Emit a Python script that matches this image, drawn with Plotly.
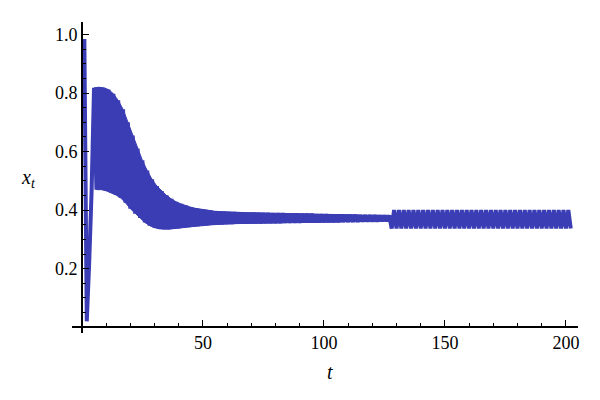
import plotly.graph_objects as go

# time index t = 1..202
t_values = list(range(1, 203))

# x_t (t = 1 .. 202)
x_values = [
    0.985, 0.020, 0.220, 0.465, 0.818, 0.470, 0.820, 0.470, 0.818, 0.466,   # 1-10
    0.812, 0.460, 0.798, 0.452, 0.775, 0.442, 0.745, 0.425, 0.700, 0.405,   # 11-20
    0.655, 0.388, 0.610, 0.373, 0.570, 0.358, 0.535, 0.347, 0.505, 0.340,   # 21-30
    0.482, 0.336, 0.465, 0.335, 0.450, 0.335, 0.438, 0.336, 0.428, 0.338,   # 31-40
    0.421, 0.340, 0.415, 0.342, 0.410, 0.344, 0.406, 0.346, 0.403, 0.348,   # 41-50
    0.400, 0.349, 0.398, 0.350, 0.396, 0.351, 0.395, 0.352, 0.394, 0.353,   # 51-60
    0.393, 0.353, 0.393, 0.354, 0.392, 0.354, 0.392, 0.354, 0.391, 0.355,   # 61-70
    0.391, 0.355, 0.390, 0.355, 0.390, 0.356, 0.390, 0.356, 0.389, 0.356,   # 71-80
    0.389, 0.356, 0.389, 0.357, 0.388, 0.357, 0.388, 0.357, 0.388, 0.357,   # 81-90
    0.387, 0.358, 0.387, 0.358, 0.387, 0.358, 0.386, 0.358, 0.386, 0.359,   # 91-100
    0.386, 0.359, 0.385, 0.359, 0.385, 0.359, 0.385, 0.360, 0.384, 0.360,   # 101-110
    0.384, 0.360, 0.384, 0.360, 0.383, 0.361, 0.383, 0.361, 0.383, 0.361,   # 111-120
    0.383, 0.361, 0.382, 0.362, 0.382, 0.362, 0.382, 0.337, 0.400, 0.337,   # 121-130
    0.400, 0.337, 0.400, 0.337, 0.400, 0.337, 0.400, 0.337, 0.400, 0.337,   # 131-140
    0.400, 0.337, 0.400, 0.337, 0.400, 0.337, 0.400, 0.337, 0.400, 0.337,   # 141-150
    0.400, 0.337, 0.400, 0.337, 0.400, 0.337, 0.400, 0.337, 0.400, 0.337,   # 151-160
    0.400, 0.337, 0.400, 0.337, 0.400, 0.337, 0.400, 0.337, 0.400, 0.337,   # 161-170
    0.400, 0.337, 0.400, 0.337, 0.400, 0.337, 0.400, 0.337, 0.400, 0.337,   # 171-180
    0.400, 0.337, 0.400, 0.337, 0.400, 0.337, 0.400, 0.337, 0.400, 0.337,   # 181-190
    0.400, 0.337, 0.400, 0.337, 0.400, 0.337, 0.400, 0.337, 0.400, 0.337,   # 191-200
    0.400, 0.337,                                                           # 201-202
]

x_tickvals = [50, 100, 150, 200]
y_tickvals = [0.2, 0.4, 0.6, 0.8, 1.0]
y_ticktext = ["0.2", "0.4", "0.6", "0.8", "1.0"]

x_range = [-4.1, 205]
y_range = [-0.02, 1.043]

line_color = "#3b3db4"
font_family = "Liberation Serif, Times New Roman, Times, serif"

# page has an 8 px body margin, so figure coords = page coords - 8
ML, MR, MT, MB = 64, 30, 14, 75
W, H = 600, 400

# the dense oscillation before the second bifurcation (t = 5 .. 127) merges
# into a solid band; fill between its peaks and troughs
i0, i1 = 4, 127            # list indices of t = 5 and t = 127
peaks_t = t_values[i0:i1:2]
peaks_x = x_values[i0:i1:2]
trough_t = t_values[i0 + 1:i1:2]
trough_x = x_values[i0 + 1:i1:2]

fig = go.Figure()
fig.add_trace(go.Scatter(
    x=peaks_t + trough_t[::-1], y=peaks_x + trough_x[::-1],
    mode="lines", fill="toself", fillcolor=line_color,
    line=dict(color=line_color, width=1),
    hoverinfo="skip", showlegend=False,
))
fig.add_trace(go.Scatter(
    x=t_values, y=x_values, mode="lines",
    line=dict(color=line_color, width=4, simplify=False),
    hoverinfo="skip", showlegend=False,
))

xpos = (0 - y_range[0]) / (y_range[1] - y_range[0])
ypos = (0 - x_range[0]) / (x_range[1] - x_range[0])

plot_w = W - ML - MR
plot_h = H - MT - MB


def to_paper(px, py):
    # px, py in page pixels
    fx, fy = px - 8, py - 8
    return (fx - ML) / plot_w, (H - MB - fy) / plot_h


tx, ty = to_paper(330, 372)
lx, ly = to_paper(28, 178)

fig.update_layout(
    width=W, height=H,
    margin=dict(l=ML, r=MR, t=MT, b=MB),
    paper_bgcolor="white", plot_bgcolor="white",
    font=dict(family=font_family, size=18, color="black"),
    xaxis=dict(
        range=x_range, anchor="free", position=xpos,
        showgrid=False, zeroline=False,
        showline=True, linecolor="black", linewidth=1.5,
        ticks="inside", ticklen=6, tickwidth=1, tickcolor="black",
        tickvals=x_tickvals, ticktext=[str(v) for v in x_tickvals],
        minor=dict(ticks="inside", dtick=10, tick0=0, ticklen=3, tickcolor="black", showgrid=False),
        tickfont=dict(family=font_family, size=18, color="black"),
    ),
    yaxis=dict(
        range=y_range, anchor="free", position=ypos,
        showgrid=False, zeroline=False,
        showline=True, linecolor="black", linewidth=1.5,
        ticks="inside", ticklen=6, tickwidth=1, tickcolor="black",
        tickvals=y_tickvals, ticktext=y_ticktext,
        minor=dict(ticks="inside", dtick=0.05, tick0=0, ticklen=3, tickcolor="black", showgrid=False),
        tickfont=dict(family=font_family, size=18, color="black"),
    ),
    annotations=[
        dict(text="<i>t</i>", x=tx, y=ty, xref="paper", yref="paper",
             xanchor="center", yanchor="middle",
             showarrow=False, font=dict(family=font_family, size=20, color="black")),
        dict(text="<i>x</i><sub><i>t</i></sub>", x=lx, y=ly, xref="paper", yref="paper",
             xanchor="center", yanchor="middle",
             showarrow=False, font=dict(family=font_family, size=20, color="black")),
    ],
)

fig.write_html("out.html")
